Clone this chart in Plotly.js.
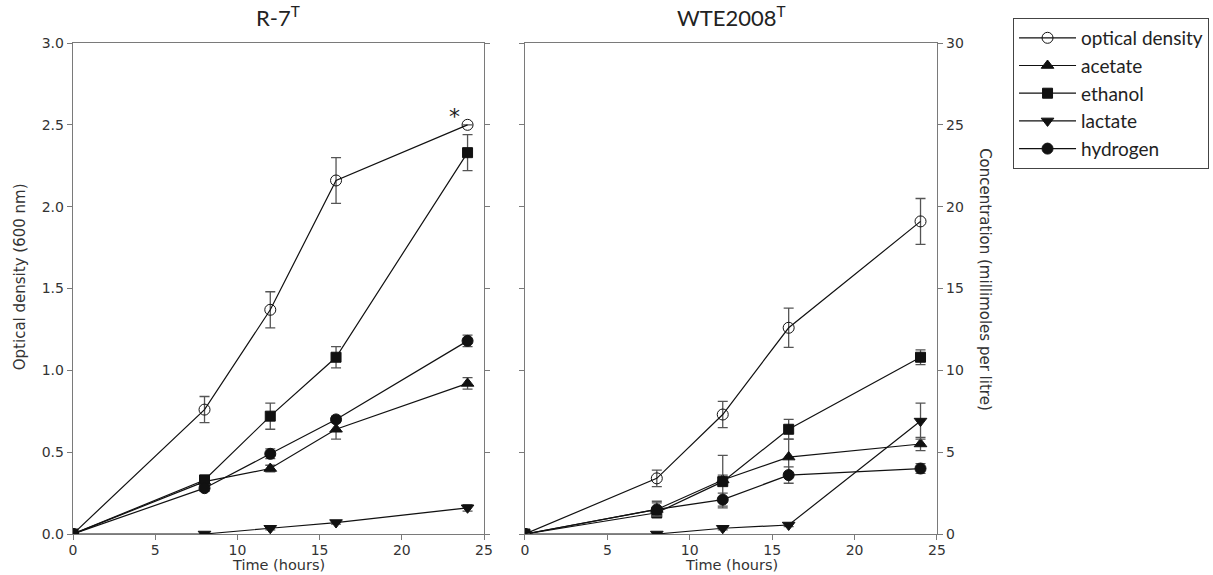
<!DOCTYPE html>
<html>
<head>
<meta charset="utf-8">
<script src="https://cdn.plot.ly/plotly-3.0.1.min.js"></script>
<style>html,body{margin:0;padding:0;background:#fff;}#chart{width:1213px;height:575px;}</style>
</head>
<body>
<div id="chart"></div>
<script>
// ---- data ----
const time = [0, 8, 12, 16, 24];
const panelTitles = ["R-7<sup>T</sup>", "WTE2008<sup>T</sup>"];
const seriesNames = ["optical density", "acetate", "ethanol", "lactate", "hydrogen"];
const xTitle = "Time (hours)";

// R-7T
const r7_od = [0, 0.76, 1.37, 2.16, 2.50];
const r7_od_err = [0, 0.08, 0.11, 0.14, 0];
const r7_acetate = [0, 3.2, 4.0, 6.4, 9.2];
const r7_acetate_err = [0, 0.3, 0.2, 0.6, 0.35];
const r7_ethanol = [0, 3.3, 7.2, 10.8, 23.3];
const r7_ethanol_err = [0, 0.3, 0.8, 0.65, 1.1];
const r7_lactate = [0, 0, 0.35, 0.7, 1.6];
const r7_lactate_err = [0, 0, 0.1, 0.1, 0.2];
const r7_hydrogen = [0, 2.8, 4.9, 7.0, 11.8];
const r7_hydrogen_err = [0, 0.2, 0.3, 0.2, 0.35];

// WTE2008T
const wte_od = [0, 0.34, 0.73, 1.26, 1.91];
const wte_od_err = [0, 0.05, 0.08, 0.12, 0.14];
const wte_acetate = [0, 1.5, 3.3, 4.7, 5.5];
const wte_acetate_err = [0, 0.5, 0.3, 1.1, 0.4];
const wte_ethanol = [0, 1.3, 3.2, 6.4, 10.8];
const wte_ethanol_err = [0, 0.3, 1.6, 0.6, 0.45];
const wte_lactate = [0, 0, 0.35, 0.55, 6.9];
const wte_lactate_err = [0, 0, 0.1, 0.1, 1.1];
const wte_hydrogen = [0, 1.5, 2.1, 3.6, 4.0];
const wte_hydrogen_err = [0, 0.4, 0.4, 0.5, 0.3];

// ---- styles ----
const symbols = ["circle-open", "triangle-up", "square", "triangle-down", "circle"];
const sizes = [11, 11, 10, 11, 11];
const tickFont = {family: "DejaVu Sans", size: 14, color: "#333"};
const axisCol = "#7a7a7a";

function mk(i, y, err, xa, ya, show) {
  return {
    x: time, y: y, name: seriesNames[i], type: "scatter", mode: "lines+markers",
    xaxis: xa, yaxis: ya, showlegend: show, legendgroup: "g" + i,
    line: {color: "#111", width: 1.2},
    marker: {symbol: symbols[i], size: sizes[i], color: "#111", line: {color: "#111", width: 1}},
    error_y: {type: "data", array: err, visible: true, color: "#555", thickness: 1.3, width: 5}
  };
}

const traces = [
  mk(0, r7_od, r7_od_err, "x", "y", true),
  mk(1, r7_acetate, r7_acetate_err, "x", "y2", true),
  mk(2, r7_ethanol, r7_ethanol_err, "x", "y2", true),
  mk(3, r7_lactate, r7_lactate_err, "x", "y2", true),
  mk(4, r7_hydrogen, r7_hydrogen_err, "x", "y2", true),
  mk(0, wte_od, wte_od_err, "x2", "y4", false),
  mk(1, wte_acetate, wte_acetate_err, "x2", "y3", false),
  mk(2, wte_ethanol, wte_ethanol_err, "x2", "y3", false),
  mk(3, wte_lactate, wte_lactate_err, "x2", "y3", false),
  mk(4, wte_hydrogen, wte_hydrogen_err, "x2", "y3", false)
];

const baseX = {
  range: [0, 25], tick0: 0, dtick: 5, ticks: "outside", ticklen: 5, tickcolor: axisCol,
  showline: true, linecolor: axisCol, linewidth: 1.3, mirror: true,
  showgrid: false, zeroline: false, tickfont: tickFont, ticklabelstandoff: -2
};
const baseY = {
  ticks: "outside", ticklen: 5, tickcolor: axisCol,
  showline: true, linecolor: axisCol, linewidth: 1.3, mirror: "ticks",
  showgrid: false, zeroline: false, tickfont: tickFont
};

const titleFont = {family: "DejaVu Sans", size: 15, color: "#333"};
const xTitleFont = {family: "DejaVu Sans", size: 14.5, color: "#333"};

const layout = {
  width: 1213, height: 575,
  margin: {l: 73, r: 276, t: 43, b: 41, autoexpand: false},
  paper_bgcolor: "#fff", plot_bgcolor: "#fff",
  xaxis: Object.assign({}, baseX, {domain: [0, 0.4757], anchor: "y"}),
  xaxis2: Object.assign({}, baseX, {domain: [0.5231, 1], anchor: "y3"}),
  yaxis: Object.assign({}, baseY, {range: [0, 3], dtick: 0.5, tickformat: ".1f", anchor: "x", side: "left"}),
  yaxis2: {range: [0, 30], overlaying: "y", anchor: "x", visible: false},
  yaxis3: Object.assign({}, baseY, {range: [0, 30], dtick: 5, anchor: "x2", side: "right"}),
  yaxis4: {range: [0, 3], overlaying: "y3", anchor: "x2", visible: false},
  showlegend: true,
  legend: {
    x: 1.088, y: 1.051, xanchor: "left", yanchor: "top",
    bordercolor: "#444", borderwidth: 1, bgcolor: "#fff",
    font: {family: "Lato", size: 19, color: "#222"},
    tracegroupgap: 0, itemwidth: 57
  },
  annotations: [
    {text: panelTitles[0], xref: "paper", yref: "paper", x: 0.2378, y: 1.053, xanchor: "center", yanchor: "middle", showarrow: false, font: {family: "Lato", size: 22, color: "#222"}},
    {text: panelTitles[1], xref: "paper", yref: "paper", x: 0.7616, y: 1.053, xanchor: "center", yanchor: "middle", showarrow: false, font: {family: "Lato", size: 22, color: "#222"}},
    {text: xTitle, xref: "paper", yref: "paper", x: 0.2378, y: -0.0833, xanchor: "center", yanchor: "bottom", showarrow: false, font: xTitleFont},
    {text: xTitle, xref: "paper", yref: "paper", x: 0.7616, y: -0.0833, xanchor: "center", yanchor: "bottom", showarrow: false, font: xTitleFont},
    {text: "Optical density (600 nm)", xref: "paper", yref: "paper", x: -0.0613, y: 0.523, xanchor: "center", yanchor: "middle", textangle: -90, showarrow: false, font: titleFont},
    {text: "Concentration (millimoles per litre)", xref: "paper", yref: "paper", x: 1.0556, y: 0.519, xanchor: "center", yanchor: "middle", textangle: 90, showarrow: false, font: titleFont},
    {text: "*", xref: "x", yref: "y", x: time[4], y: r7_od[4], xshift: -13, yshift: 8, showarrow: false, font: {family: "DejaVu Sans", size: 22, color: "#222"}}
  ]
};

Plotly.newPlot("chart", traces, layout, {displayModeBar: false, staticPlot: true});
</script>
</body>
</html>
